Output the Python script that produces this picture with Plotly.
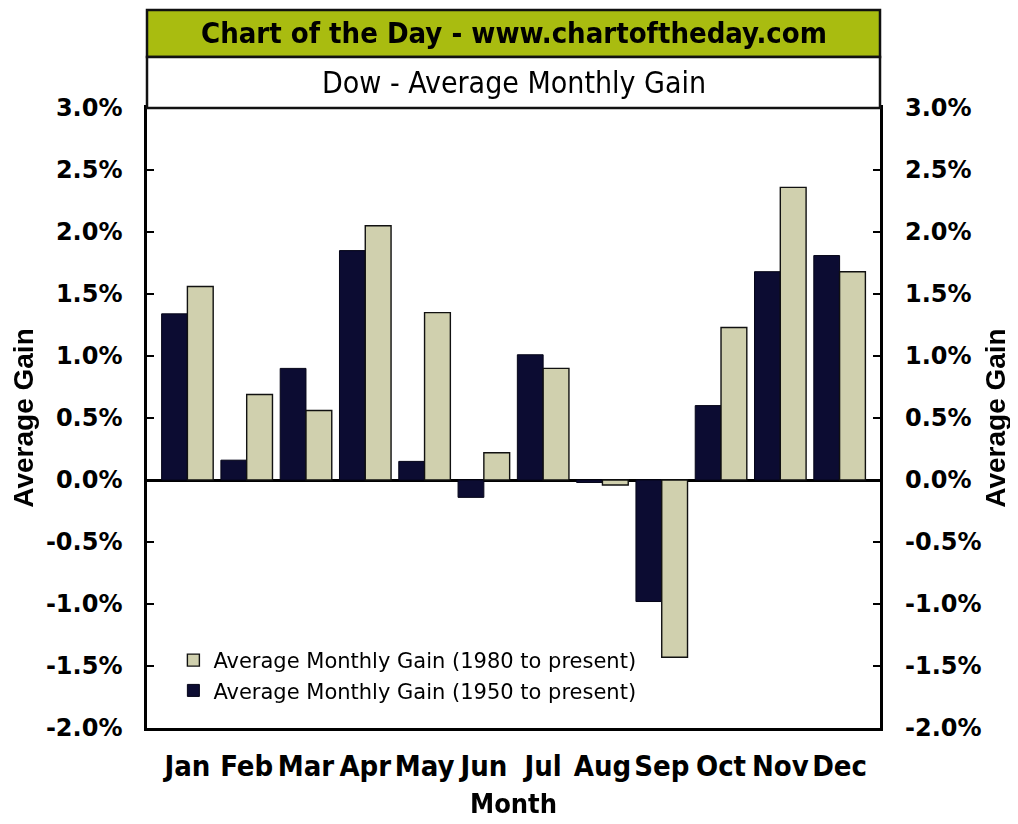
import plotly.graph_objects as go

months = ["Jan", "Feb", "Mar", "Apr", "May", "Jun", "Jul", "Aug", "Sep", "Oct", "Nov", "Dec"]
gain_1950 = [1.34, 0.16, 0.90, 1.85, 0.15, -0.14, 1.01, -0.02, -0.98, 0.60, 1.68, 1.81]
gain_1980 = [1.56, 0.69, 0.56, 2.05, 1.35, 0.22, 0.90, -0.04, -1.43, 1.23, 2.36, 1.68]
y_ticks = [3.0, 2.5, 2.0, 1.5, 1.0, 0.5, 0.0, -0.5, -1.0, -1.5, -2.0]
y_tick_text = [f"{v:.1f}%" for v in y_ticks]

NARROW = "Liberation Sans Narrow, DejaVu Sans Condensed, Arial Narrow, sans-serif"
WIDE = "DejaVu Sans, Verdana, sans-serif"
ARIAL = "Liberation Sans, Arial, sans-serif"

fig = go.Figure()
fig.add_trace(go.Bar(
    x=months, y=gain_1950, name="Average Monthly Gain (1950 to present)",
    marker=dict(color="#0c0c32", line=dict(color="#050518", width=1)),
))
fig.add_trace(go.Bar(
    x=months, y=gain_1980, name="Average Monthly Gain (1980 to present)",
    marker=dict(color="#d0d0ae", line=dict(color="#111111", width=1.4)),
))
# invisible trace to activate the right-hand axis
fig.add_trace(go.Scatter(
    x=months, y=gain_1950, yaxis="y2", mode="markers", opacity=0,
    showlegend=False, hoverinfo="skip",
))

axis_common = dict(
    range=[-2.0, 3.0], tickvals=y_ticks, ticktext=y_tick_text,
    ticks="inside", ticklen=7, tickwidth=2, tickcolor="black",
    showgrid=False, tickfont=dict(family=WIDE, size=24, color="black", weight="bold"),
    automargin=False,
)

# page body has an 8px margin, so the figure is sized to fit the 1018x824 window
fig.update_layout(
    width=1010, height=816,
    paper_bgcolor="white", plot_bgcolor="white",
    margin=dict(l=139, r=138, t=100, b=96),
    barmode="group", bargap=0.13, bargroupgap=0.0,
    showlegend=True,
    legend=dict(
        x=0.036, y=0.142, xanchor="left", yanchor="top",
        traceorder="reversed", bgcolor="rgba(0,0,0,0)",
        font=dict(family=WIDE, size=21, color="black"),
        tracegroupgap=0, itemwidth=30,
    ),
    xaxis=dict(
        showline=True, linecolor="black", linewidth=2.5, mirror=True,
        ticks="", showgrid=False, tickangle=0, automargin=False,
        tickfont=dict(family=NARROW, size=29, color="black", weight="bold"),
        ticklabelstandoff=10,
        title=dict(text="Month", font=dict(family=NARROW, size=27, color="black", weight="bold"), standoff=13),
    ),
    yaxis=dict(
        showline=True, linecolor="black", linewidth=2.5, mirror=True,
        zeroline=True, zerolinecolor="black", zerolinewidth=2.5,
        ticklabelstandoff=17,
        title=dict(text="Average Gain", font=dict(family=ARIAL, size=28, color="black", weight="bold"), standoff=6),
        **axis_common,
    ),
    yaxis2=dict(
        overlaying="y", side="right", showline=False, zeroline=False,
        ticklabelstandoff=24,
        title=dict(text="Average Gain", font=dict(family=ARIAL, size=28, color="black", weight="bold"), standoff=4),
        **axis_common,
    ),
    shapes=[
        dict(type="rect", xref="paper", yref="paper", x0=0, x1=1, y0=1.0823, y1=1.158,
             fillcolor="#a9bc10", line=dict(color="#111111", width=2.5), layer="above"),
        dict(type="rect", xref="paper", yref="paper", x0=0, x1=1, y0=1.0, y1=1.0823,
             fillcolor="white", line=dict(color="#111111", width=2.5), layer="above"),
    ],
    annotations=[
        dict(text="Chart of the Day - www.chartoftheday.com", xref="paper", yref="paper",
             x=0.5, y=1.121, xanchor="center", yanchor="middle", showarrow=False,
             font=dict(family=NARROW, size=29, color="black", weight="bold")),
        dict(text="Dow - Average Monthly Gain", xref="paper", yref="paper",
             x=0.5, y=1.041, xanchor="center", yanchor="middle", showarrow=False,
             font=dict(family=NARROW, size=30, color="black")),
    ],
)

fig.write_html("out.html")
